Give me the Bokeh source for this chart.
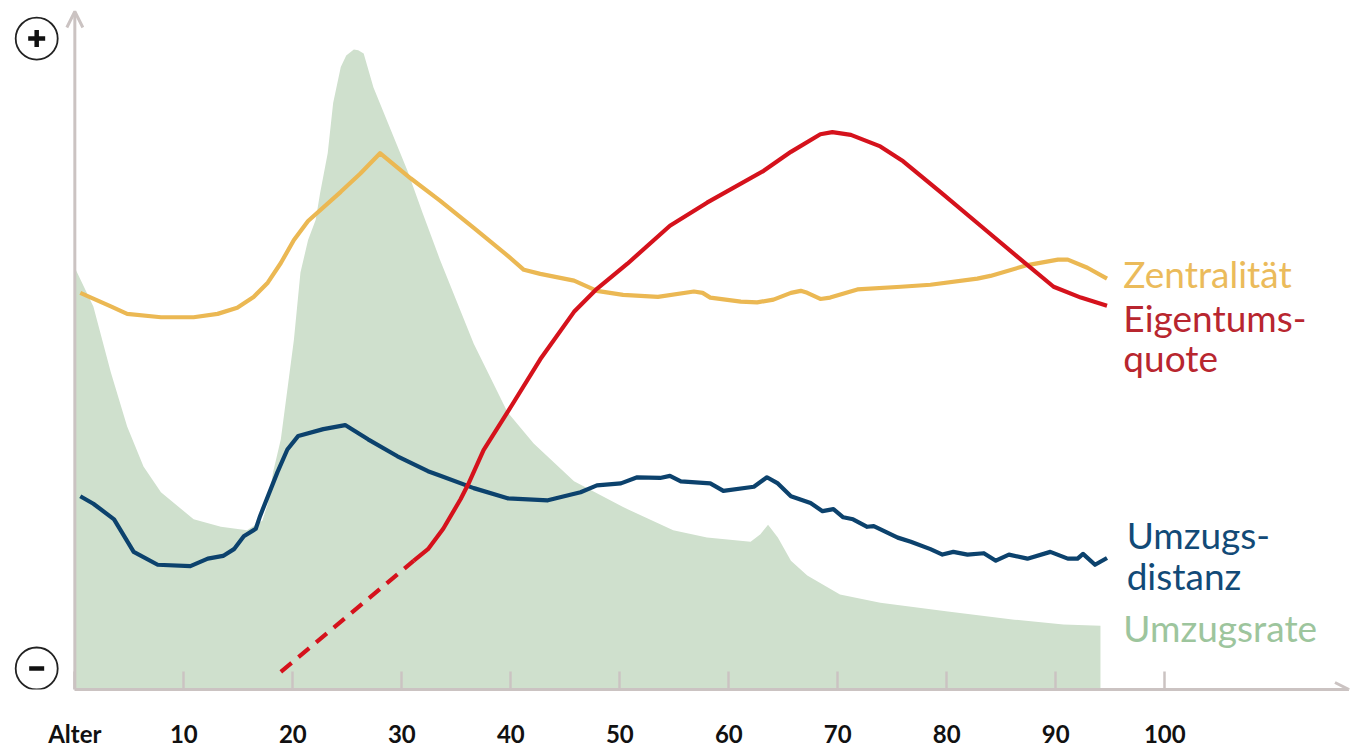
from bokeh.plotting import figure
from bokeh.models import Range1d, FixedTicker, Arrow, OpenHead, ColumnDataSource
from bokeh.core.properties import value
from bokeh.embed import file_html
from bokeh.resources import INLINE

# ---- data (age in years, index value 0..100) ----
rate_age = [0.0, 1.7, 3.3, 4.8, 6.3, 7.9, 10.9, 13.4, 15.8, 17.2, 17.7, 18.2, 18.9, 20.1, 20.7,
            21.4, 22.1, 22.5, 23.2, 23.7, 24.4, 24.9, 25.6, 26.0, 26.5, 27.4, 29.0, 30.5, 31.9,
            33.5, 36.6, 39.7, 42.1, 45.8, 50.3, 54.9, 58.0, 62.0, 62.9, 63.6, 64.5, 65.7, 67.2,
            70.2, 73.9, 80.1, 86.2, 90.7, 94.1]
rate_val = [62.2, 56.5, 46.8, 38.8, 32.9, 29.1, 25.1, 24.0, 23.5, 24.9, 27.4, 32.1, 36.9, 51.6, 61.5,
            66.3, 69.3, 73.2, 79.1, 86.5, 91.8, 93.5, 94.4, 94.3, 93.8, 88.8, 82.5, 76.6, 70.3,
            63.4, 51.0, 40.9, 36.3, 30.7, 26.9, 23.5, 22.4, 21.8, 22.9, 24.3, 22.4, 19.0, 16.8,
            14.0, 12.8, 11.5, 10.3, 9.6, 9.4]

zent_age = [0.5, 3.3, 4.8, 7.9, 10.9, 13.1, 14.9, 16.4, 17.7, 18.9, 20.1, 21.4, 24.4, 26.2, 28.0,
            30.8, 33.5, 36.6, 39.7, 41.2, 42.7, 45.8, 47.9, 50.3, 53.5, 56.8, 57.6, 58.3, 61.1,
            62.6, 64.1, 65.7, 66.6, 67.2, 68.4, 69.3, 71.8, 75.8, 78.5, 82.8, 84.0, 87.4, 90.2,
            91.1, 92.9, 94.7]
zent_val = [58.5, 56.5, 55.4, 54.9, 54.9, 55.4, 56.3, 57.9, 60.0, 62.9, 66.3, 69.1, 73.4, 76.1, 79.1,
            75.4, 72.1, 68.1, 64.0, 61.9, 61.3, 60.3, 58.8, 58.2, 57.9, 58.7, 58.5, 57.8, 57.2,
            57.1, 57.5, 58.5, 58.8, 58.5, 57.6, 57.8, 59.0, 59.4, 59.7, 60.6, 61.0, 62.6, 63.4,
            63.4, 62.2, 60.6]

eig_est_age = [18.9, 31.1]
eig_est_val = [2.6, 19.0]
eig_age = [31.1, 32.4, 33.8, 35.4, 36.1, 37.5, 39.7, 42.7, 45.8, 47.9, 50.7, 54.6, 58.0, 63.2,
           65.7, 68.4, 69.5, 71.2, 73.9, 76.0, 79.4, 83.1, 86.8, 89.8, 92.3, 94.7]
eig_val = [19.0, 20.7, 23.7, 28.1, 30.3, 35.3, 40.9, 48.7, 55.7, 59.1, 62.8, 68.4, 71.8, 76.5,
           79.3, 81.9, 82.2, 81.8, 80.1, 77.9, 73.4, 68.4, 63.4, 59.4, 57.8, 56.6]

dist_age = [0.5, 1.7, 3.6, 5.4, 7.6, 10.6, 12.2, 13.6, 14.6, 15.5, 16.6, 17.0, 18.6, 19.5, 20.5,
            22.8, 24.8, 26.9, 29.6, 32.4, 33.6, 36.6, 39.7, 43.4, 46.4, 47.9, 50.1, 51.6, 53.7,
            54.6, 55.6, 58.3, 59.5, 62.3, 63.5, 64.5, 65.7, 67.5, 68.6, 69.6, 70.5, 71.4, 72.7,
            73.3, 75.5, 76.7, 78.5, 79.6, 80.6, 81.9, 83.4, 84.5, 85.7, 87.4, 89.5, 91.1, 92.0,
            92.5, 93.6, 94.7]
dist_val = [28.5, 27.4, 25.1, 20.3, 18.4, 18.2, 19.3, 19.7, 20.7, 22.6, 23.7, 25.6, 32.1, 35.4, 37.4,
            38.4, 39.0, 36.9, 34.4, 32.2, 31.5, 29.7, 28.2, 27.9, 29.1, 30.1, 30.4, 31.3, 31.2,
            31.5, 30.7, 30.4, 29.3, 29.9, 31.3, 30.4, 28.5, 27.5, 26.3, 26.6, 25.4, 25.1, 24.0,
            24.1, 22.4, 21.8, 20.7, 19.9, 20.3, 19.9, 20.1, 19.0, 19.9, 19.3, 20.3, 19.3, 19.3,
            20.0, 18.4, 19.4]

tick_values = [0, 10, 20, 30, 40, 50, 60, 70, 80, 90, 100]
tick_labels = ["Alter", "10", "20", "30", "40", "50", "60", "70", "80", "90", "100"]

label_text = ["Zentralität", "Eigentums-", "quote", "Umzugs-", "distanz", "Umzugsrate"]
label_x = [96.2, 96.2, 96.2, 96.5, 96.5, 96.2]
label_y = [61.3, 54.8, 49.0, 22.9, 16.8, 9.1]
label_color = ["#ebbb5b", "#b8262f", "#b8262f", "#124a77", "#124a77", "#9dc59d"]

sign_x = [-3.5, -3.5]
sign_y = [96.0, 3.1]

GREY = "#cbc3c2"

p = figure(width=1350, height=750, x_range=Range1d(-6.82, 117.04), y_range=Range1d(0, 101.62),
           output_backend="svg", toolbar_location=None, y_axis_location=None,
           min_border_left=0, min_border_right=0, min_border_top=0, min_border_bottom=59)
p.outline_line_color = None
p.xgrid.visible = False
p.ygrid.visible = False
p.background_fill_color = "white"
p.border_fill_color = "white"

xa = p.xaxis[0]
xa.ticker = FixedTicker(ticks=tick_values)
xa.major_label_overrides = {v: t for v, t in zip(tick_values, tick_labels)}
xa.bounds = (0, 116.9)
xa.axis_line_color = GREY
xa.axis_line_width = 3
xa.major_tick_in = 18
xa.major_tick_out = 0
xa.major_tick_line_color = GREY
xa.major_tick_line_width = 2.5
xa.minor_tick_line_color = None
xa.major_label_text_font = "Lato"
xa.major_label_text_font_style = "bold"
xa.major_label_text_font_size = "24px"
xa.major_label_text_color = "#111111"
xa.major_label_standoff = 29

# area
p.varea(x=rate_age, y1=[0] * len(rate_age), y2=rate_val, fill_color="#cfe0cd", fill_alpha=1.0)

# lines
p.line(dist_age, dist_val, line_color="#0c426d", line_width=4.2, line_join="round")
p.line(zent_age, zent_val, line_color="#ebb853", line_width=4.2, line_join="round")
p.line(eig_age, eig_val, line_color="#d5121c", line_width=4.2, line_join="round")
p.line(eig_est_age, eig_est_val, line_color="#d5121c", line_width=4.2, line_dash="14 9")

# y axis arrow
p.add_layout(Arrow(end=OpenHead(size=16, line_color=GREY, line_width=3),
                   x_start=0, y_start=0, x_end=0, y_end=100.0,
                   line_color=GREY, line_width=3))
p.add_layout(Arrow(end=OpenHead(size=14, line_color=GREY, line_width=3),
                   x_start=110, y_start=0, x_end=116.9, y_end=0,
                   line_color=GREY, line_width=3))

# plus / minus markers
p.scatter(sign_x, sign_y, size=42, fill_color="white", line_color="#222222", line_width=1.8)
p.scatter([sign_x[0]], [sign_y[0]], marker="cross", size=17, line_width=4.5, line_color="#111111")
p.scatter([sign_x[1]], [sign_y[1]], marker="dash", size=15, line_width=4.5, line_color="#111111")

# series labels
src = ColumnDataSource(dict(x=label_x, y=label_y, text=label_text, color=label_color))
p.text(x="x", y="y", text="text", text_color="color", source=src,
       text_font=value("Lato"), text_font_size="37px", text_baseline="alphabetic",
       text_align="left")

open("out.html", "w").write(file_html(p, INLINE))
